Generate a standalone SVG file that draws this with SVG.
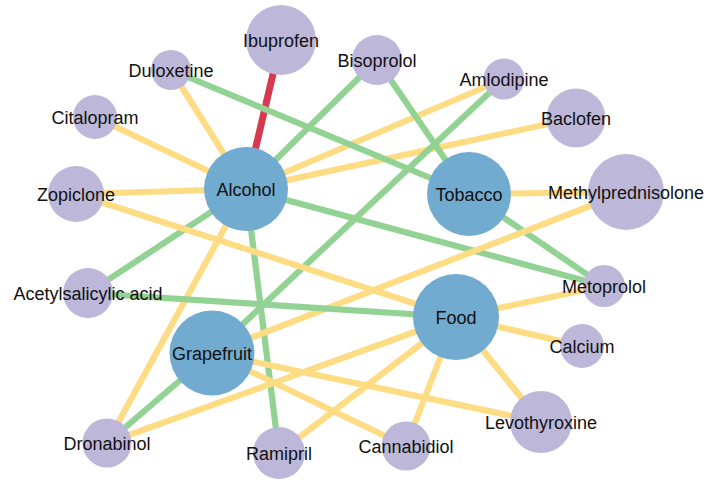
<svg xmlns="http://www.w3.org/2000/svg" width="708" height="483" viewBox="0 0 708 483">
<style>
.e{stroke-width:6.2;fill:none}
.y{stroke:#FEDC84}
.g{stroke:#92D393}
.r{stroke:#D73A50;stroke-width:7}
.d circle{fill:#BDB8DA}
.h circle{fill:#72ABD0}
text{font-family:"Liberation Sans",Arial,sans-serif;font-size:18px;fill:#111;text-anchor:middle}
</style>
<rect width="708" height="483" fill="#fff"/>
<g id="connectors">
<line class="e r" x1="246" y1="189" x2="281" y2="40"/>
<line class="e y" x1="246" y1="189" x2="171" y2="70"/>
<line class="e y" x1="246" y1="189" x2="95" y2="117"/>
<line class="e y" x1="246" y1="189" x2="76" y2="194"/>
<line class="e g" x1="246" y1="189" x2="377" y2="60"/>
<line class="e y" x1="246" y1="189" x2="504" y2="79"/>
<line class="e y" x1="246" y1="189" x2="576" y2="118"/>
<line class="e g" x1="246" y1="189" x2="604" y2="286"/>
<line class="e g" x1="246" y1="189" x2="88" y2="293"/>
<line class="e y" x1="246" y1="189" x2="107" y2="443"/>
<line class="e g" x1="246" y1="189" x2="279" y2="453"/>
<line class="e g" x1="171" y1="70" x2="469" y2="194"/>
<line class="e g" x1="377" y1="60" x2="469" y2="194"/>
<line class="e g" x1="504" y1="79" x2="212" y2="353"/>
<line class="e y" x1="469" y1="194" x2="626" y2="192"/>
<line class="e g" x1="469" y1="194" x2="604" y2="286"/>
<line class="e y" x1="626" y1="192" x2="212" y2="353"/>
<line class="e y" x1="76" y1="194" x2="456" y2="317"/>
<line class="e g" x1="88" y1="293" x2="456" y2="317"/>
<line class="e y" x1="456" y1="317" x2="604" y2="286"/>
<line class="e y" x1="456" y1="317" x2="582" y2="346"/>
<line class="e y" x1="456" y1="317" x2="541" y2="422"/>
<line class="e y" x1="456" y1="317" x2="406" y2="446"/>
<line class="e y" x1="456" y1="317" x2="279" y2="453"/>
<line class="e y" x1="456" y1="317" x2="107" y2="443"/>
<line class="e g" x1="212" y1="353" x2="107" y2="443"/>
<line class="e y" x1="212" y1="353" x2="541" y2="422"/>
<line class="e y" x1="212" y1="353" x2="406" y2="446"/>
</g>
<g id="n-ibuprofen" class="d"><circle cx="281" cy="40" r="35"/></g>
<g id="n-duloxetine" class="d"><circle cx="171" cy="70" r="20"/></g>
<g id="n-citalopram" class="d"><circle cx="95" cy="117" r="22"/></g>
<g id="n-zopiclone" class="d"><circle cx="76" cy="194" r="28"/></g>
<g id="n-bisoprolol" class="d"><circle cx="377" cy="60" r="25"/></g>
<g id="n-amlodipine" class="d"><circle cx="504" cy="79" r="20.5"/></g>
<g id="n-baclofen" class="d"><circle cx="576" cy="118" r="29.5"/></g>
<g id="n-methylprednisolone" class="d"><circle cx="626" cy="192" r="38"/></g>
<g id="n-acetylsalicylic" class="d"><circle cx="88" cy="293" r="25"/></g>
<g id="n-metoprolol" class="d"><circle cx="604" cy="286" r="21"/></g>
<g id="n-calcium" class="d"><circle cx="582" cy="346" r="22"/></g>
<g id="n-levothyroxine" class="d"><circle cx="541" cy="422" r="31"/></g>
<g id="n-cannabidiol" class="d"><circle cx="406" cy="446" r="24.5"/></g>
<g id="n-ramipril" class="d"><circle cx="279" cy="453" r="26"/></g>
<g id="n-dronabinol" class="d"><circle cx="107" cy="443" r="24.5"/></g>
<g id="n-alcohol" class="h"><circle cx="246" cy="189" r="42"/></g>
<g id="n-tobacco" class="h"><circle cx="469" cy="194" r="42"/></g>
<g id="n-food" class="h"><circle cx="456" cy="317" r="43"/></g>
<g id="n-grapefruit" class="h"><circle cx="212" cy="353" r="42.5"/></g>
<g id="labels">
<text x="281" y="46.5">Ibuprofen</text>
<text x="171" y="76.5">Duloxetine</text>
<text x="95" y="123.5">Citalopram</text>
<text x="76" y="200.5">Zopiclone</text>
<text x="377" y="66.5">Bisoprolol</text>
<text x="504" y="85.5">Amlodipine</text>
<text x="576" y="124.5">Baclofen</text>
<text x="626" y="198.5">Methylprednisolone</text>
<text x="88" y="299.5">Acetylsalicylic acid</text>
<text x="604" y="292.5">Metoprolol</text>
<text x="582" y="352.5">Calcium</text>
<text x="541" y="428.5">Levothyroxine</text>
<text x="406" y="452.5">Cannabidiol</text>
<text x="279" y="459.5">Ramipril</text>
<text x="107" y="449.5">Dronabinol</text>
<text x="246" y="195.5">Alcohol</text>
<text x="469" y="200.5">Tobacco</text>
<text x="456" y="323.5">Food</text>
<text x="212" y="359.5">Grapefruit</text>
</g>
</svg>
